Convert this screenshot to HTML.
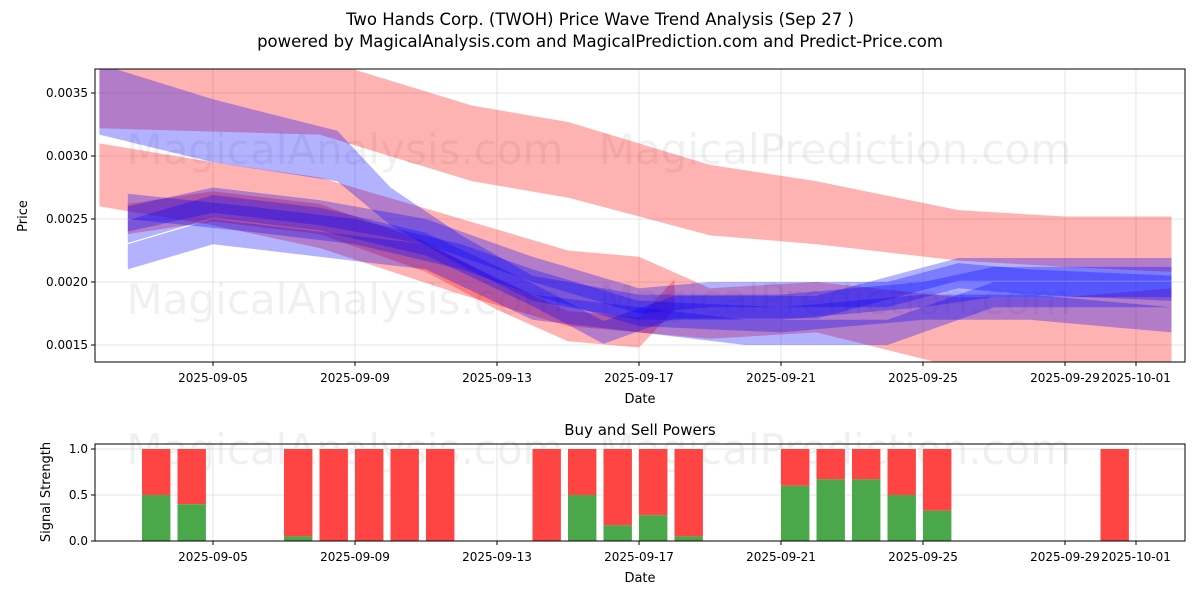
<!DOCTYPE html>
<html><head><meta charset="utf-8"><style>
body{margin:0;background:#fff;font-family:"Liberation Sans","DejaVu Sans",sans-serif;}
svg text{font-family:"DejaVu Sans","Liberation Sans",sans-serif;}
</style></head><body>
<svg id="c" width="1200" height="600" xmlns="http://www.w3.org/2000/svg">
<text x="600" y="25" text-anchor="middle" font-size="16.5">Two Hands Corp. (TWOH) Price Wave Trend Analysis (Sep 27 )</text>
<text x="600" y="47" text-anchor="middle" font-size="16.5">powered by MagicalAnalysis.com and MagicalPrediction.com and Predict-Price.com</text>
<defs><clipPath id="cp1"><rect x="95" y="69" width="1090" height="293"/></clipPath></defs>
<g id="gtop"></g>
<g id="gbot"></g>
</svg>
<script>
const NS="http://www.w3.org/2000/svg";
const priceTicks=[0.0015,0.0020,0.0025,0.0030,0.0035];
const dateTicks=[3,7,11,15,19,23,27,29];
const dateLabels=["2025-09-05","2025-09-09","2025-09-13","2025-09-17","2025-09-21","2025-09-25","2025-09-29","2025-10-01"];
const bandColors=["red","red","red","blue","blue","blue","blue","blue"];
const bandDays=[
[-0.2,6,10.3,13,17,20,24,27,30],
[-0.2,3,6,10,13,15,17,20,24,27,30],
[0.6,3,6,9,11,13,15,16],
[-0.2,3,6.5,8,10,12,15,19,23,25,30],
[0.6,3,6,9,12,15,17,19,22,24,26,30],
[0.6,3,6,9,12,15,18,22,25,30],
[0.6,3,6,9,12,14,16,20,24,30],
[0.6,4,7,10,12,15,19,23,26,30]];
const bandCenter=[
[0.00352,0.00347,0.0031,0.00297,0.00265,0.00255,0.00237,0.00232,0.0023],
[0.00285,0.0027,0.00255,0.0022,0.00195,0.0019,0.00175,0.0018,0.0016,0.00158,0.00155],
[0.0025,0.0026,0.0025,0.0022,0.0019,0.00165,0.0016,0.0019],
[0.00345,0.0032,0.003,0.0026,0.00225,0.00195,0.0018,0.0018,0.0019,0.002,0.002],
[0.0025,0.00265,0.00255,0.0024,0.0021,0.00185,0.0019,0.0019,0.0019,0.00205,0.002,0.00195],
[0.0022,0.0024,0.0023,0.0022,0.0018,0.0017,0.0016,0.0016,0.0019,0.0019],
[0.0024,0.0026,0.0025,0.0023,0.0019,0.0016,0.0018,0.0018,0.0021,0.0021],
[0.0026,0.0025,0.0024,0.0022,0.002,0.00175,0.0017,0.0018,0.0018,0.0017]];
const bandHalf=[
[0.0003,0.0003,0.0003,0.0003,0.00028,0.00025,0.0002,0.0002,0.00022],
[0.00025,0.00025,0.00028,0.0003,0.0003,0.0003,0.0002,0.0002,0.00028,0.0003,0.0004],
[0.00012,0.00012,0.00012,0.00012,0.00012,0.00012,0.00012,0.00012],
[0.00028,0.00025,0.0002,0.00015,0.00012,0.0001,0.0001,0.0001,0.0001,0.00012,0.00012],
[0.0001,0.0001,0.0001,0.0001,0.0001,0.0001,0.0001,0.0001,0.0001,0.0001,0.0001,0.0001],
[0.0001,0.0001,0.0001,0.0001,0.0001,0.0001,0.0001,0.0001,0.0001,0.0001],
[0.00009,0.00009,0.00009,0.00009,0.00009,0.00009,0.00009,0.00009,0.00009,0.00009],
[0.0001,0.0001,0.0001,0.0001,0.0001,0.0001,0.0001,0.0001,0.0001,0.0001]];
const barDays=[1.4,2.4,5.4,6.4,7.4,8.4,9.4,12.4,13.4,14.4,15.4,16.4,19.4,20.4,21.4,22.4,23.4,28.4];
const buyVals=[0.5,0.4,0.05,0,0,0,0,0,0.5,0.17,0.28,0.05,0.6,0.67,0.67,0.5,0.33,0];
const powerTicks=[0,0.5,1.0];

const X=d=>106.5+d*35.5;
const Y=p=>345-(p-0.0015)/0.0005*63;
const Y2=v=>541-v*92;
function el(t,a,p){const e=document.createElementNS(NS,t);for(const k in a)e.setAttribute(k,a[k]);p.appendChild(e);return e;}
const gTop=document.getElementById('gtop'),gBot=document.getElementById('gbot');
priceTicks.forEach(p=>{const l=el('line',{x1:95,x2:1185,y1:Y(p),y2:Y(p),stroke:'#ddd','stroke-width':0.8},gTop);


const t=el('text',{x:88,y:Y(p)+4,'text-anchor':'end','font-size':12},gTop);t.textContent=p.toFixed(4);


el('line',{x1:91,x2:95,y1:Y(p),y2:Y(p),stroke:'#000'},gTop);});
dateTicks.forEach((d,i)=>{el('line',{x1:X(d),x2:X(d),y1:69,y2:362,stroke:'#ddd','stroke-width':0.8},gTop);
el('line',{x1:X(d),x2:X(d),y1:362,y2:366,stroke:'#000'},gTop);
const t=el('text',{x:X(d),y:382,'text-anchor':'middle','font-size':12},gTop);t.textContent=dateLabels[i];


el('line',{x1:X(d),x2:X(d),y1:444,y2:541,stroke:'#ddd','stroke-width':0.8},gBot);
el('line',{x1:X(d),x2:X(d),y1:541,y2:545,stroke:'#000'},gBot);
const t2=el('text',{x:X(d),y:561,'text-anchor':'middle','font-size':12},gBot);t2.textContent=dateLabels[i];

});
[[345,150,'MagicalAnalysis.com'],[835,150,'MagicalPrediction.com'],[345,300,'MagicalAnalysis.com'],[835,300,'MagicalPrediction.com'],[345,450,'MagicalAnalysis.com'],[835,450,'MagicalPrediction.com']].forEach(w=>{
const t=el('text',{x:w[0],y:w[1]+14,'text-anchor':'middle','font-size':42,fill:'#000','fill-opacity':0.06},w[1]>400?gBot:gTop);t.textContent=w[2];

});
const g=el('g',{'clip-path':'url(#cp1)'},gTop);
bandDays.forEach((ds,i)=>{let up=[],dn=[];ds.forEach((d,j)=>{up.push(X(d)+','+Y(bandCenter[i][j]+bandHalf[i][j]));dn.unshift(X(d)+','+Y(bandCenter[i][j]-bandHalf[i][j]));});
const p=el('polygon',{points:up.concat(dn).join(' '),fill:bandColors[i]=='red'?'#ff0000':'#0000ff','fill-opacity':0.3},g);

});
el('rect',{x:95,y:69,width:1090,height:293,fill:'none',stroke:'#000','stroke-width':1},gTop);
let tt=el('text',{x:640,y:403,'text-anchor':'middle','font-size':13},gTop);tt.textContent='Date';


tt=el('text',{x:0,y:0,'text-anchor':'middle','font-size':13,transform:'translate(27,216) rotate(-90)'},gTop);tt.textContent='Price';


powerTicks.forEach(v=>{el('line',{x1:95,x2:1185,y1:Y2(v),y2:Y2(v),stroke:'#ddd','stroke-width':0.8},gBot);
el('line',{x1:91,x2:95,y1:Y2(v),y2:Y2(v),stroke:'#000'},gBot);
const t=el('text',{x:88,y:Y2(v)+4,'text-anchor':'end','font-size':12},gBot);t.textContent=v.toFixed(1);

});
barDays.forEach((d,i)=>{const b=buyVals[i];
const r=el('rect',{x:X(d)-14.2,y:Y2(1),width:28.4,height:Y2(b)-Y2(1),fill:'#ff4444'},gBot);


const gr=el('rect',{x:X(d)-14.2,y:Y2(b),width:28.4,height:Y2(0)-Y2(b),fill:'#4aa84a'},gBot);

});
el('rect',{x:95,y:444,width:1090,height:97,fill:'none',stroke:'#000','stroke-width':1},gBot);
tt=el('text',{x:640,y:435,'text-anchor':'middle','font-size':15},gBot);tt.textContent='Buy and Sell Powers';


tt=el('text',{x:640,y:582,'text-anchor':'middle','font-size':13},gBot);tt.textContent='Date';


tt=el('text',{x:0,y:0,'text-anchor':'middle','font-size':13,transform:'translate(50,492) rotate(-90)'},gBot);tt.textContent='Signal Strength';


</script>
</body></html>
